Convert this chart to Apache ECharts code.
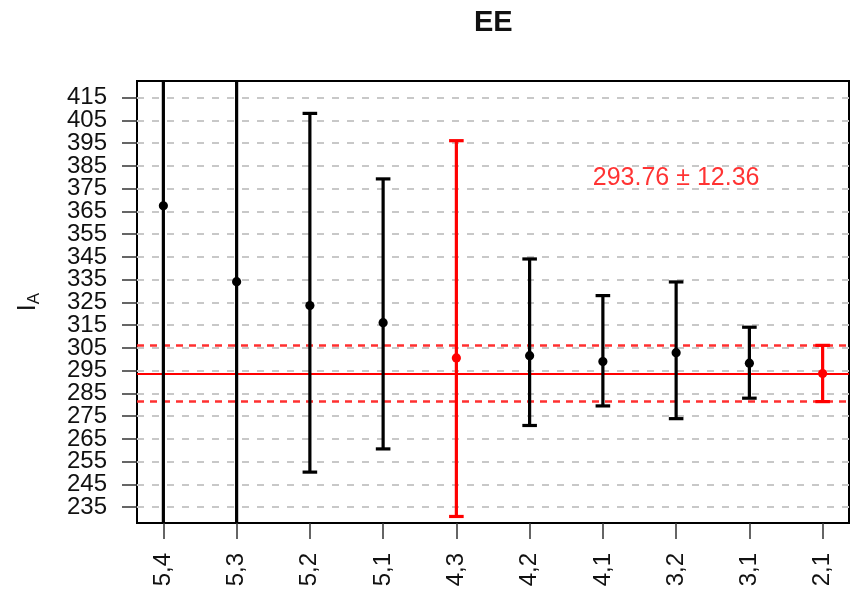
<!DOCTYPE html>
<html>
<head>
<meta charset="utf-8">
<script src="https://cdn.jsdelivr.net/npm/echarts@6/dist/echarts.min.js"></script>
<style>
  html, body { margin: 0; padding: 0; background: #ffffff; }
  #chart { width: 851px; height: 593px; }
</style>
</head>
<body>
<div id="chart"></div>
<script>
// Pair labels, point estimates and interval bounds
const categories  = ['5,4', '5,3', '5,2', '5,1', '4,3', '4,2', '4,1', '3,2', '3,1', '2,1'];
const estimates   = [367.5, 334.1, 323.6, 316.1, 300.6, 301.6, 299.0, 302.9, 298.3, 293.76];
const lowerBounds = [190.0, 205.0, 250.4, 260.6, 230.9, 270.9, 279.5, 273.9, 282.9, 281.40];
const upperBounds = [545.0, 463.0, 408.1, 379.3, 396.1, 344.1, 328.0, 334.0, 314.1, 306.12];
const highlighted = ['4,3', '2,1'];

// Combined estimate and its uncertainty
const meanValue = 293.76;
const meanError = 12.36;

// Y-axis tick values
const yTicks = [235, 245, 255, 265, 275, 285, 295, 305, 315, 325, 335, 345, 355, 365, 375, 385, 395, 405, 415];

const FONT = '"Liberation Sans", Arial, Helvetica, sans-serif';
const RED = '#ff0000';
const INK = '#111111';
const Y_MIN = 228.03;
const Y_MAX = 422.34;

const xPositions = categories.map((_, i) => i + 1);
const barData = categories.map((c, i) => [
  i + 1, estimates[i], lowerBounds[i], upperBounds[i], highlighted.includes(c) ? 1 : 0
]);

// Tick labels sit tightly stacked; they are split over two overlaid axes
// so the axis layout never drops any of them.
const yTicksEven = yTicks.filter((_, i) => i % 2 === 0);
const yTicksOdd = yTicks.filter((_, i) => i % 2 === 1);

const noSymbol = ['none', 'none'];

const yLabelStyle = (values) => ({
  customValues: values,
  showMinLabel: true,
  showMaxLabel: true,
  margin: 30,
  fontFamily: FONT,
  fontSize: 24,
  color: INK
});

const chart = echarts.init(document.getElementById('chart'), null, { renderer: 'canvas' });

chart.setOption({
  animation: false,
  backgroundColor: '#ffffff',
  title: {
    text: 'EE',
    left: 469,
    top: 3,
    textStyle: { fontFamily: FONT, fontSize: 29, fontWeight: 'bold', color: INK }
  },
  grid: {
    left: 137, right: 2, top: 81, bottom: 70,
    show: true, borderColor: '#000000', borderWidth: 2, backgroundColor: 'transparent'
  },
  xAxis: {
    type: 'value',
    min: 0.64,
    max: 10.36,
    axisLine: { show: false },
    splitLine: { show: false },
    axisTick: {
      show: true, length: 16, customValues: xPositions,
      lineStyle: { color: '#333333', width: 1.5 }
    },
    axisLabel: {
      customValues: xPositions,
      showMinLabel: true,
      showMaxLabel: true,
      rotate: 90,
      margin: 30,
      fontFamily: FONT,
      fontSize: 24,
      color: INK,
      formatter: v => categories[Math.round(v) - 1]
    }
  },
  yAxis: [
    {
      type: 'value',
      min: Y_MIN,
      max: Y_MAX,
      name: '{main|I}{sub|A}',
      nameLocation: 'middle',
      nameRotate: 90,
      nameGap: 94,
      nameTextStyle: {
        fontFamily: FONT,
        color: INK,
        rich: {
          main: { fontFamily: FONT, fontSize: 25, lineHeight: 30, color: INK },
          sub: { fontFamily: FONT, fontSize: 17, lineHeight: 14, verticalAlign: 'bottom', color: INK }
        }
      },
      axisLine: { show: false },
      splitLine: { show: false },
      axisTick: {
        show: true, length: 15, customValues: yTicks,
        lineStyle: { color: '#333333', width: 1.5 }
      },
      axisLabel: yLabelStyle(yTicksEven)
    },
    {
      type: 'value',
      position: 'left',
      offset: 0,
      min: Y_MIN,
      max: Y_MAX,
      axisLine: { show: false },
      splitLine: { show: false },
      axisTick: { show: false },
      axisLabel: yLabelStyle(yTicksOdd)
    }
  ],
  series: [
    {
      // dashed horizontal guides at every tick
      type: 'line',
      data: [],
      silent: true,
      markLine: {
        z: 1,
        silent: true,
        symbol: noSymbol,
        label: { show: false },
        lineStyle: { color: '#c8c8c8', width: 2, type: [7, 8] },
        data: yTicks.map(t => ({ yAxis: t }))
      }
    },
    {
      // combined estimate with its band
      type: 'line',
      data: [],
      silent: true,
      markLine: {
        z: 2,
        silent: true,
        symbol: noSymbol,
        label: { show: false },
        data: [
          { yAxis: meanValue, lineStyle: { color: RED, width: 2, type: 'solid' } },
          { yAxis: meanValue + meanError, lineStyle: { color: '#ff3030', width: 2.5, type: [7, 6] } },
          { yAxis: meanValue - meanError, lineStyle: { color: '#ff3030', width: 2.5, type: [7, 6] } }
        ]
      }
    },
    {
      type: 'custom',
      z: 10,
      clip: true,
      data: barData,
      encode: { x: 0, y: 1 },
      renderItem: function (params, api) {
        const x = api.value(0);
        const color = api.value(4) ? RED : '#000000';
        const top = api.coord([x, api.value(3)]);
        const bot = api.coord([x, api.value(2)]);
        const mid = api.coord([x, api.value(1)]);
        const cap = 7.3;
        const stroke = { stroke: color, lineWidth: 3.2 };
        return {
          type: 'group',
          children: [
            { type: 'line', shape: { x1: top[0], y1: top[1], x2: bot[0], y2: bot[1] }, style: stroke },
            { type: 'line', shape: { x1: top[0] - cap, y1: top[1], x2: top[0] + cap, y2: top[1] }, style: stroke },
            { type: 'line', shape: { x1: bot[0] - cap, y1: bot[1], x2: bot[0] + cap, y2: bot[1] }, style: stroke },
            { type: 'circle', shape: { cx: mid[0], cy: mid[1], r: 4.6 }, style: { fill: color } }
          ]
        };
      }
    },
    {
      // annotation of the combined estimate
      type: 'scatter',
      z: 11,
      silent: true,
      symbolSize: 0,
      data: [[categories.indexOf('3,2') + 1, 379.5]],
      label: {
        show: true,
        position: 'inside',
        fontFamily: FONT,
        fontSize: 25,
        color: RED,
        formatter: () => meanValue.toFixed(2) + ' \u00b1 ' + meanError.toFixed(2)
      }
    }
  ]
});
</script>
</body>
</html>
